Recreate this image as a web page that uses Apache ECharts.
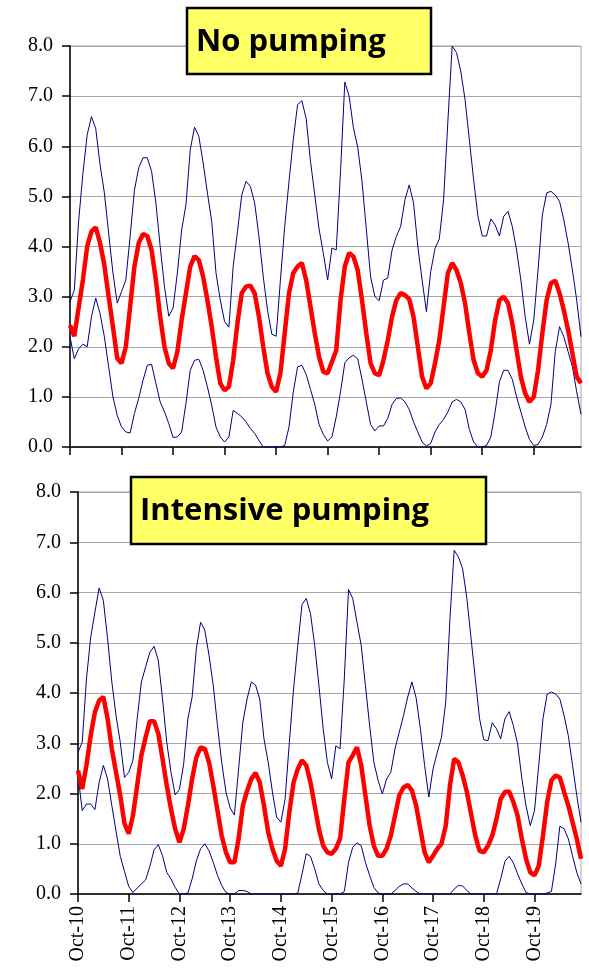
<!DOCTYPE html>
<html>
<head>
<meta charset="utf-8">
<script src="https://cdn.jsdelivr.net/npm/echarts@6/dist/echarts.min.js"></script>
<style>
  html, body { margin: 0; padding: 0; background: #fff; }
  #chart { width: 589px; height: 970px; }
</style>
</head>
<body>
<div id="chart"></div>
<script>
// monthly series, Oct-10 .. Sep-20
const monthNames = ['Jan', 'Feb', 'Mar', 'Apr', 'May', 'Jun', 'Jul', 'Aug', 'Sep', 'Oct', 'Nov', 'Dec'];
const startYear = 2010;
const startMonth = 9; // Oct
const nMonths = 120;

const noPumpMax = [
  2.9, 3.13, 4.5, 5.45, 6.23, 6.59, 6.35, 5.63, 5.07, 4.27,
  3.47, 2.87, 3.1, 3.33, 4.2, 5.12, 5.57, 5.77, 5.77, 5.5,
  4.87, 4.0, 3.2, 2.61, 2.77, 3.47, 4.33, 4.83, 5.93, 6.38,
  6.2, 5.67, 5.07, 4.5, 3.47, 2.93, 2.5, 2.39, 3.6, 4.3,
  5.03, 5.3, 5.2, 4.87, 4.2, 3.4, 2.73, 2.25, 2.21, 3.33,
  4.4, 5.3, 6.13, 6.83, 6.91, 6.55, 5.7, 5.03, 4.35, 3.86,
  3.33, 3.97, 3.93, 5.5, 7.28, 7.0, 6.37, 5.98, 5.3, 4.35,
  3.4, 3.0, 2.92, 3.33, 3.37, 3.93, 4.2, 4.4, 4.93, 5.23,
  4.87, 4.0, 3.33, 2.7, 3.5, 3.96, 4.15, 4.93, 6.5, 8.0,
  7.87, 7.5, 6.93, 6.13, 5.33, 4.6, 4.21, 4.21, 4.55, 4.43,
  4.21, 4.6, 4.7, 4.4, 3.93, 3.33, 2.6, 2.05, 2.53, 3.53,
  4.63, 5.07, 5.1, 5.03, 4.9, 4.53, 4.07, 3.53, 2.93, 2.2
];
const noPumpMean = [
  2.43, 2.21, 2.77, 3.33, 4.0, 4.3, 4.38, 4.07, 3.63, 3.0,
  2.4, 1.77, 1.67, 2.0, 2.8, 3.6, 4.07, 4.25, 4.21, 3.93,
  3.33, 2.6, 2.0, 1.67, 1.57, 1.9, 2.53, 3.07, 3.6, 3.81,
  3.73, 3.4, 2.93, 2.4, 1.8, 1.27, 1.13, 1.2, 1.73, 2.47,
  3.07, 3.2, 3.22, 3.07, 2.6, 2.0, 1.47, 1.2, 1.1, 1.47,
  2.27, 3.07, 3.47, 3.6, 3.67, 3.33, 2.8, 2.27, 1.8, 1.5,
  1.47, 1.7, 1.93, 2.93, 3.6, 3.87, 3.8, 3.53, 2.93, 2.27,
  1.67, 1.47, 1.43, 1.73, 2.13, 2.6, 2.93, 3.07, 3.03, 2.95,
  2.6, 2.0, 1.4, 1.17, 1.27, 1.67, 2.13, 2.8, 3.47, 3.67,
  3.53, 3.27, 2.87, 2.27, 1.73, 1.47, 1.4, 1.53, 1.93, 2.53,
  2.93, 3.0, 2.87, 2.47, 1.93, 1.4, 1.07, 0.9, 1.0, 1.53,
  2.27, 2.93, 3.27, 3.32, 3.07, 2.73, 2.33, 1.87, 1.4, 1.27
];
const noPumpMin = [
  2.2, 1.76, 1.96, 2.05, 2.0, 2.6, 2.97, 2.66, 2.2, 1.6,
  1.0, 0.63, 0.4, 0.3, 0.28, 0.67, 0.97, 1.33, 1.63, 1.65,
  1.27, 0.9, 0.7, 0.47, 0.19, 0.2, 0.3, 0.87, 1.53, 1.73,
  1.75, 1.53, 1.2, 0.83, 0.4, 0.2, 0.1, 0.2, 0.73, 0.67,
  0.6, 0.5, 0.37, 0.27, 0.13, 0, 0, 0, 0, 0,
  0.03, 0.4, 1.1, 1.6, 1.63, 1.45, 1.15, 0.85, 0.45, 0.25,
  0.12, 0.2, 0.6, 1.1, 1.68, 1.78, 1.83, 1.76, 1.35, 0.9,
  0.45, 0.32, 0.42, 0.42, 0.57, 0.85, 0.97, 0.98, 0.9, 0.75,
  0.5, 0.3, 0.1, 0.02, 0.07, 0.3, 0.45, 0.55, 0.7, 0.9,
  0.95, 0.9, 0.75, 0.35, 0.1, 0, 0, 0.03, 0.2, 0.7,
  1.3, 1.53, 1.53, 1.35, 1.0, 0.7, 0.4, 0.15, 0.03, 0.05,
  0.2, 0.45, 0.85, 1.9, 2.4, 2.2, 1.9, 1.6, 1.1, 0.65
];

const intPumpMax = [
  2.82, 3.02, 4.28, 5.11, 5.61, 6.09, 5.84, 5.08, 4.22, 3.55,
  3.02, 2.32, 2.42, 2.66, 3.49, 4.22, 4.52, 4.81, 4.93, 4.65,
  3.88, 3.02, 2.42, 1.97, 2.08, 2.59, 3.49, 3.92, 4.88, 5.41,
  5.25, 4.75, 4.15, 3.35, 2.62, 2.03, 1.71, 1.57, 2.49, 3.42,
  3.88, 4.22, 4.16, 3.88, 3.09, 2.62, 2.03, 1.53, 1.43, 1.89,
  3.02, 4.08, 4.95, 5.76, 5.88, 5.58, 4.95, 4.15, 3.29, 2.62,
  2.29, 2.95, 2.89, 4.28, 6.06, 5.88, 5.41, 4.95, 4.15, 3.35,
  2.62, 2.26, 1.99, 2.29, 2.42, 2.89, 3.22, 3.55, 3.92, 4.22,
  3.9, 3.29, 2.56, 1.93, 2.49, 2.82, 3.12, 3.82, 5.48, 6.84,
  6.71, 6.47, 5.88, 5.08, 4.28, 3.49, 3.07, 3.05, 3.41, 3.29,
  3.09, 3.49, 3.63, 3.35, 2.99, 2.3, 1.75, 1.36, 1.66, 2.56,
  3.49, 3.98, 4.02, 3.98, 3.88, 3.55, 3.15, 2.56, 1.96, 1.43
];
const intPumpMean = [
  2.46, 2.09, 2.56, 3.15, 3.62, 3.85, 3.92, 3.49, 2.89, 2.42,
  1.96, 1.4, 1.2, 1.56, 2.16, 2.76, 3.12, 3.44, 3.44, 3.19,
  2.69, 2.16, 1.69, 1.29, 1.03, 1.29, 1.76, 2.29, 2.72, 2.92,
  2.89, 2.62, 2.16, 1.66, 1.16, 0.83, 0.63, 0.63, 1.1, 1.76,
  2.05, 2.29, 2.41, 2.22, 1.76, 1.23, 0.9, 0.66, 0.56, 0.9,
  1.63, 2.22, 2.49, 2.66, 2.56, 2.22, 1.76, 1.29, 0.96, 0.83,
  0.8, 0.9, 1.1, 1.89, 2.62, 2.76, 2.92, 2.56, 1.96, 1.36,
  0.96, 0.76, 0.76, 0.9, 1.16, 1.56, 1.96, 2.12, 2.17, 2.06,
  1.76, 1.29, 0.83, 0.63, 0.76, 0.9, 1.0, 1.36, 2.16, 2.69,
  2.62, 2.36, 2.03, 1.59, 1.16, 0.86, 0.83, 0.96, 1.16, 1.49,
  1.89, 2.03, 2.04, 1.83, 1.56, 1.1, 0.7, 0.43, 0.37, 0.56,
  1.16, 1.83, 2.26, 2.36, 2.32, 2.03, 1.76, 1.43, 1.1, 0.7
];
const intPumpMin = [
  2.36, 1.66, 1.79, 1.79, 1.68, 2.22, 2.56, 2.29, 1.76, 1.25,
  0.75, 0.45, 0.15, 0.03, 0.12, 0.2, 0.28, 0.55, 0.88, 0.98,
  0.76, 0.43, 0.3, 0.13, 0, 0, 0.02, 0.3, 0.66, 0.9,
  1.0, 0.86, 0.63, 0.37, 0.17, 0.03, 0, 0, 0.07, 0.07,
  0.05, 0, 0, 0, 0, 0, 0, 0, 0, 0,
  0, 0, 0.02, 0.4, 0.8, 0.75, 0.5, 0.2, 0.07, 0,
  0, 0, 0, 0.05, 0.63, 0.93, 1.02, 0.96, 0.63, 0.37,
  0.13, 0.02, 0, 0, 0, 0.07, 0.15, 0.2, 0.2, 0.12,
  0.05, 0, 0, 0, 0, 0, 0, 0, 0, 0.1,
  0.17, 0.16, 0.07, 0, 0, 0, 0, 0, 0, 0,
  0.3, 0.65, 0.75, 0.62, 0.4, 0.2, 0.03, 0, 0, 0,
  0, 0.02, 0.05, 0.6, 1.35, 1.3, 1.1, 0.76, 0.43, 0.2
];

const titles = ['No pumping', 'Intensive pumping'];

const categories = [];
for (let i = 0; i < nMonths; i++) {
  const m = (startMonth + i) % 12;
  const y = startYear + Math.floor((startMonth + i) / 12);
  categories.push(monthNames[m] + '-' + String(y % 100).padStart(2, '0'));
}

const serif = '"Liberation Serif", "Times New Roman", serif';
const gridColor = '#a6a6a6';
const blue = '#000080';
const red = '#ff0000';

const makeX = (idx, showLabel) => ({
  type: 'category',
  gridIndex: idx,
  data: categories,
  boundaryGap: false,
  axisLine: { lineStyle: { color: '#000', width: 1.5 } },
  axisTick: { interval: 11, length: 8, lineStyle: { color: '#000', width: 1.5 } },
  axisLabel: {
    show: showLabel,
    interval: 11,
    rotate: 90,
    margin: 12,
    color: '#000',
    fontFamily: serif,
    fontSize: 20,
  },
  splitLine: { show: false },
});

const makeY = idx => ({
  type: 'value',
  gridIndex: idx,
  min: 0,
  max: 8,
  interval: 1,
  axisLine: { show: true, lineStyle: { color: '#000', width: 1.5 } },
  axisTick: { show: true, length: 8, lineStyle: { color: '#000', width: 1.5 } },
  axisLabel: {
    margin: 17,
    color: '#000',
    fontFamily: serif,
    fontSize: 20,
    formatter: v => v.toFixed(1),
  },
  splitLine: { lineStyle: { color: gridColor, width: 1 } },
});

const line = (idx, data, color, width) => ({
  type: 'line',
  xAxisIndex: idx,
  yAxisIndex: idx,
  data,
  symbol: 'none',
  animation: false,
  lineStyle: { color, width },
  z: width > 2 ? 3 : 2,
});

const titleBox = (x, y, w, h, text) => ({
  type: 'group',
  children: [
    {
      type: 'rect',
      shape: { x, y, width: w, height: h },
      style: { fill: '#ffff66', stroke: '#000', lineWidth: 2.5 },
      z: 10,
    },
    {
      type: 'text',
      style: {
        x: x + 9,
        y: y + h / 2 + 1,
        text,
        fill: '#000',
        fontFamily: '"Open Sans", sans-serif',
        fontWeight: 'bold',
        fontSize: 31,
        verticalAlign: 'middle',
      },
      z: 11,
    },
  ],
});

var myChart = echarts.init(document.getElementById('chart'), null, { renderer: 'canvas' });
myChart.setOption({
  backgroundColor: '#fff',
  animation: false,
  grid: [
    { left: 70, right: 8, top: 46, height: 401, show: true, borderColor: gridColor, borderWidth: 1 },
    { left: 78, right: 8, top: 492, height: 402, show: true, borderColor: gridColor, borderWidth: 1 },
  ],
  xAxis: [makeX(0, false), makeX(1, true)],
  yAxis: [makeY(0), makeY(1)],
  series: [
    line(0, noPumpMax, blue, 1),
    line(0, noPumpMin, blue, 1),
    line(0, noPumpMean, red, 4.5),
    line(1, intPumpMax, blue, 1),
    line(1, intPumpMin, blue, 1),
    line(1, intPumpMean, red, 4.5),
  ],
  graphic: [
    titleBox(187, 8, 244, 66, titles[0]),
    titleBox(131, 477, 355, 67, titles[1]),
  ],
});
</script>
</body>
</html>
